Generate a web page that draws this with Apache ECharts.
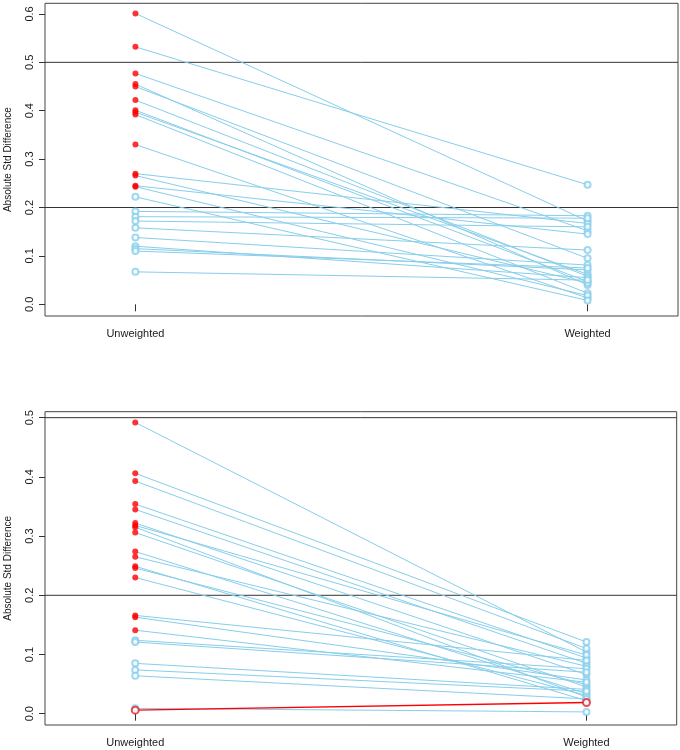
<!DOCTYPE html>
<html>
<head>
<meta charset="utf-8">
<script src="https://cdn.jsdelivr.net/npm/echarts@6/dist/echarts.min.js"></script>
<style>
html,body{margin:0;padding:0;background:#fff;}
#chart{width:680px;height:750px;}
</style>
</head>
<body>
<div id="chart"></div>
<script>
// ---- data ----
const categories = ['Unweighted', 'Weighted'];
const yTicksTop = [0, 0.1, 0.2, 0.3, 0.4, 0.5, 0.6];
const yTicksBot = [0, 0.1, 0.2, 0.3, 0.4, 0.5];
const thresholds = [0.2, 0.5];
const yAxisTitle = 'Absolute Std Difference';

// top panel: unweighted / weighted absolute std differences (paired)
const unwTop = [0.601, 0.532, 0.477, 0.455, 0.450, 0.422, 0.401, 0.397, 0.392, 0.330, 0.270, 0.266, 0.245, 0.243,
                0.222, 0.192, 0.181, 0.172, 0.158, 0.138, 0.120, 0.115, 0.110, 0.067];
const wtdTop = [0.172, 0.247, 0.152, 0.040, 0.095, 0.058, 0.047, 0.062, 0.023, 0.013, 0.167, 0.044, 0.145, 0.018,
                0.008, 0.183, 0.178, 0.160, 0.112, 0.081, 0.055, 0.071, 0.075, 0.050];
// 1 = significant before weighting (red filled), 0 = not
const sigTop = [1,1,1,1,1,1,1,1,1,1,1,1,1,1, 0,0,0,0,0,0,0,0,0,0];

// bottom panel
const unwBot = [0.492, 0.406, 0.393, 0.354, 0.345, 0.322, 0.318, 0.315, 0.306, 0.274, 0.265, 0.249, 0.246, 0.230,
                0.166, 0.163, 0.141, 0.124, 0.121, 0.085, 0.074, 0.064, 0.009, 0.006];
const wtdBot = [0.104, 0.121, 0.110, 0.094, 0.085, 0.066, 0.099, 0.028, 0.045, 0.034, 0.080, 0.022, 0.049, 0.031,
                0.090, 0.057, 0.053, 0.076, 0.070, 0.041, 0.038, 0.025, 0.003, 0.019];
const sigBot = [1,1,1,1,1,1,1,1,1,1,1,1,1,1,1,1,1, 0,0,0,0,0,0, 0];
// 1 = difference increased after weighting (red line / red open circles)
const upBot  = [0,0,0,0,0,0,0,0,0,0,0,0,0,0,0,0,0, 0,0,0,0,0,0, 1];

// ---- styles ----
const BLUE = '#87CEEB';
const RED = '#FF0000';
const FONT = 'Liberation Sans';
const TXT = '#1a1a1a';

const chart = echarts.init(document.getElementById('chart'), null, {renderer: 'canvas'});

const grids = [
  {left: 45, top: 3.3, width: 633, height: 312.7},
  {left: 45, top: 411.7, width: 631.7, height: 313.3}
];
const yRanges = [[-0.0242, 0.622], [-0.0191, 0.5101]];
const yTicks = [yTicksTop, yTicksBot];

const xAxes = grids.map((g, i) => ({
  type: 'value', gridIndex: i, min: 0.8, max: 2.2,
  splitLine: {show: false},
  axisLine: {show: false},
  axisTick: {show: true, customValues: [1, 2], length: 7, lineStyle: {color: '#333', width: 1}},
  axisLabel: {show: true, customValues: [1, 2], margin: 12, fontSize: 11, fontFamily: FONT, color: TXT,
    formatter: v => categories[Math.round(v) - 1] || ''}
}));
const yAxes = grids.map((g, i) => ({
  type: 'value', gridIndex: i, min: yRanges[i][0], max: yRanges[i][1],
  splitLine: {show: false},
  axisLine: {show: false},
  axisTick: {show: true, customValues: yTicks[i], length: 6, lineStyle: {color: '#333', width: 1}},
  axisLabel: {show: true, customValues: yTicks[i], rotate: 90, margin: 10, fontSize: 11, fontFamily: FONT, color: TXT,
    formatter: v => v.toFixed(1)},
  name: yAxisTitle, nameLocation: 'middle', nameGap: 32, nameRotate: 90,
  nameTextStyle: {fontSize: 10, fontFamily: FONT, color: TXT}
}));

const series = [];
function addPanel(idx, unw, wtd, sig, up) {
  // threshold lines first (underneath)
  thresholds.forEach(t => {
    if (t <= yRanges[idx][1]) {
      series.push({type: 'line', xAxisIndex: idx, yAxisIndex: idx, silent: true, showSymbol: false, z: 1,
        data: [[0.8, t], [2.2, t]], lineStyle: {color: '#333', width: 1}});
    }
  });
  // paired lines
  unw.forEach((u, k) => {
    const isUp = up && up[k];
    series.push({type: 'line', xAxisIndex: idx, yAxisIndex: idx, silent: true, showSymbol: false, z: isUp ? 3 : 2,
      data: [[1, u], [2, wtd[k]]], lineStyle: {color: isUp ? RED : BLUE, width: isUp ? 1.4 : 1}});
  });
  // unweighted points
  series.push({type: 'scatter', xAxisIndex: idx, yAxisIndex: idx, z: 4, symbol: 'emptyCircle', symbolSize: 6,
    data: unw.map((u, k) => (!sig[k] && !(up && up[k])) ? [1, u] : null).filter(d => d),
    itemStyle: {color: BLUE, borderColor: BLUE, borderWidth: 1}});
  series.push({type: 'scatter', xAxisIndex: idx, yAxisIndex: idx, z: 5, symbol: 'circle', symbolSize: 6,
    data: unw.map((u, k) => sig[k] ? [1, u] : null).filter(d => d),
    itemStyle: {color: RED}});
  // weighted points
  series.push({type: 'scatter', xAxisIndex: idx, yAxisIndex: idx, z: 4, symbol: 'emptyCircle', symbolSize: 6,
    data: wtd.map((w, k) => !(up && up[k]) ? [2, w] : null).filter(d => d),
    itemStyle: {color: BLUE, borderColor: BLUE, borderWidth: 1}});
  if (up) {
    // increased pairs: red open circles at both ends
    series.push({type: 'scatter', xAxisIndex: idx, yAxisIndex: idx, z: 6, symbol: 'emptyCircle', symbolSize: 7,
      data: unw.map((u, k) => up[k] ? [1, u] : null).concat(wtd.map((w, k) => up[k] ? [2, w] : null)).filter(d => d),
      itemStyle: {color: '#E0202A', borderColor: '#E0202A', borderWidth: 1.3}});
  }
}
addPanel(0, unwTop, wtdTop, sigTop, null);
addPanel(1, unwBot, wtdBot, sigBot, upBot);

chart.setOption({
  animation: false,
  backgroundColor: '#fff',
  grid: grids.map(g => Object.assign({show: true, borderColor: '#444', borderWidth: 1, backgroundColor: 'transparent',
    containLabel: false, outerBoundsMode: 'none'}, g)),
  xAxis: xAxes,
  yAxis: yAxes,
  series: series
});
</script>
</body>
</html>
